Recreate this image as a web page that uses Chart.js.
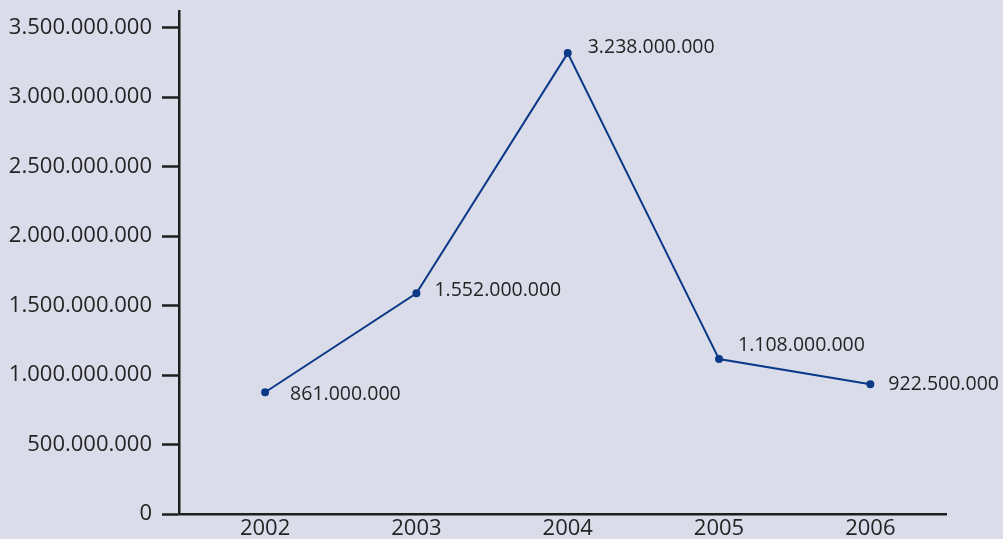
<!DOCTYPE html>
<html>
<head>
<meta charset="utf-8">
<script src="https://cdn.jsdelivr.net/npm/chart.js@4"></script>
<style>
  html, body { margin: 0; padding: 0; background: #dbdcea; }
  #wrap { width: 1003px; height: 539px; }
</style>
</head>
<body>
<div id="wrap"><canvas id="revenueChart" width="1003" height="539"></canvas></div>
<script>
// years on the x axis
const years = [2002, 2003, 2004, 2005, 2006];
// values as the points sit in the picture
const plotted = [876000000, 1588000000, 3317000000, 1115000000, 933000000];
// values printed next to each point
const printed = [861000000, 1552000000, 3238000000, 1108000000, 922500000];
// y axis tick labels
const yTicks = [0, 500000000, 1000000000, 1500000000, 2000000000, 2500000000, 3000000000, 3500000000];

const lineColor = "#0b3987";
const textColor = "#242424";

// 3238000000 -> "3.238.000.000"
function dotted(n) {
  return String(Math.round(n)).replace(/\B(?=(\d{3})+(?!\d))/g, ".");
}

// labels to the right of each point
const pointLabels = {
  id: "pointLabels",
  afterDatasetsDraw(chart) {
    const ctx = chart.ctx;
    const meta = chart.getDatasetMeta(0);
    const dx = [25, 18, 20, 19, 18];
    const dy = [2, -3, -6, -14, 0];
    ctx.save();
    ctx.font = '19.5px "Open Sans"';
    ctx.fillStyle = textColor;
    ctx.textAlign = "left";
    ctx.textBaseline = "middle";
    meta.data.forEach((pt, i) => {
      ctx.fillText(dotted(printed[i]), pt.x + dx[i], pt.y + dy[i]);
    });
    ctx.restore();
  }
};

const ctx = document.getElementById("revenueChart").getContext("2d");

new Chart(ctx, {
  type: "line",
  data: {
    datasets: [{
      data: years.map((y, i) => ({ x: y, y: plotted[i] })),
      borderColor: lineColor,
      backgroundColor: lineColor,
      borderWidth: 2,
      pointRadius: 3,
      pointHoverRadius: 3,
      tension: 0
    }]
  },
  options: {
    responsive: false,
    animation: false,
    layout: { padding: { top: 11, right: 57, left: 0, bottom: 0 } },
    plugins: {
      legend: { display: false },
      tooltip: { enabled: false }
    },
    scales: {
      x: {
        type: "linear",
        min: 2001.431,
        max: 2006.5,
        afterBuildTicks: (scale) => { scale.ticks = years.map(v => ({ value: v })); },
        afterFit: (scale) => { scale.height = 25; },
        grid: { display: false, drawTicks: false },
        border: { display: true, color: "#1e1e1e", width: 2.5 },
        ticks: {
          padding: 2,
          color: textColor,
          font: { family: "Open Sans", size: 22 },
          callback: (v) => String(v)
        }
      },
      y: {
        min: 0,
        max: 3620000000,
        afterBuildTicks: (scale) => { scale.ticks = yTicks.map(v => ({ value: v })); },
        afterFit: (scale) => {
          scale.width = 179;
          scale.paddingTop = 0;
          scale.paddingBottom = 0;
        },
        grid: {
          drawOnChartArea: false,
          drawTicks: true,
          tickLength: 17,
          tickWidth: 2.5,
          tickColor: "#1e1e1e"
        },
        border: { display: true, color: "#1e1e1e", width: 2.5 },
        ticks: {
          padding: 10,
          color: textColor,
          font: { family: "Open Sans", size: 22 },
          callback: (v) => dotted(v)
        }
      }
    }
  },
  plugins: [pointLabels]
});
</script>
</body>
</html>
